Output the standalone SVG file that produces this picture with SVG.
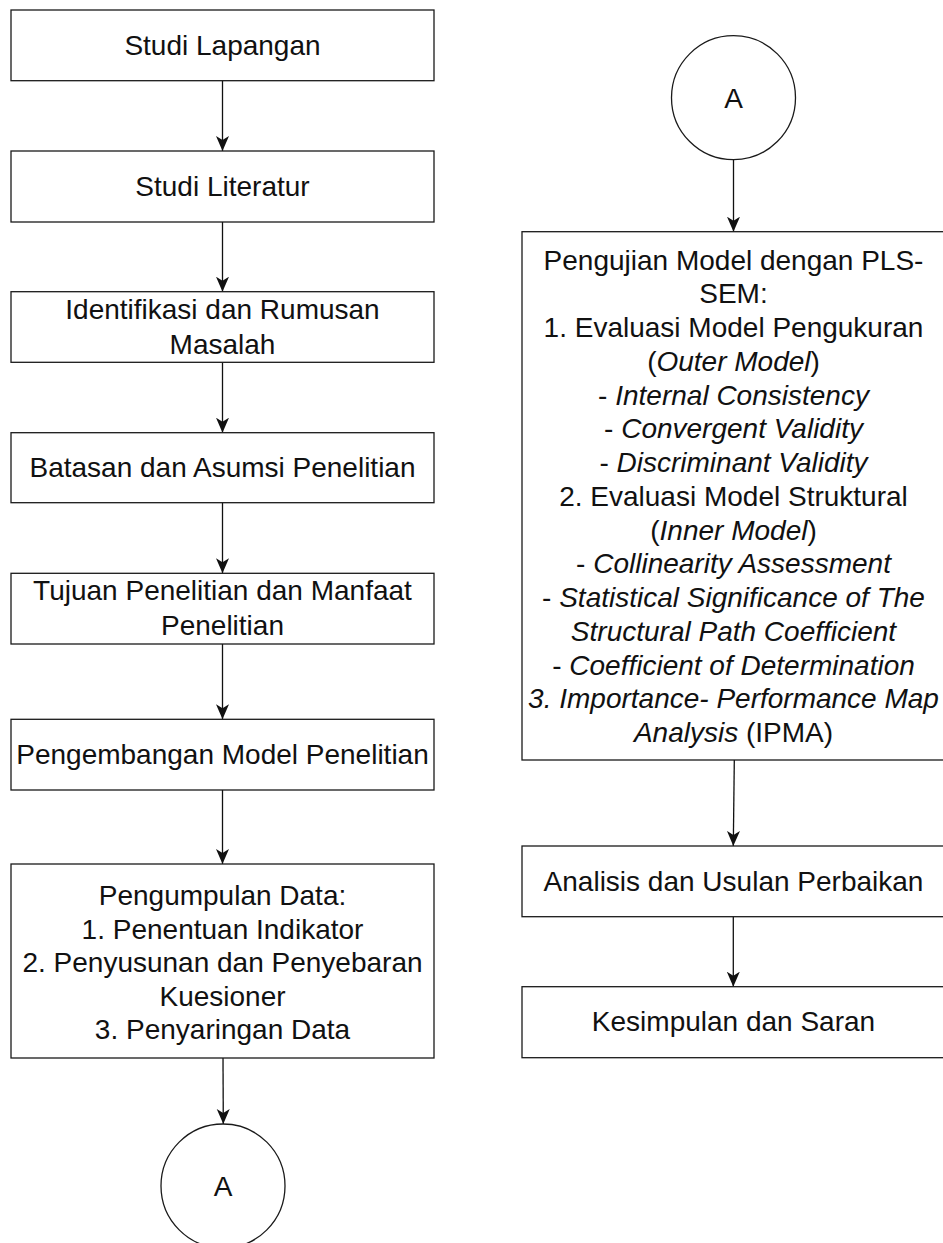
<svg xmlns="http://www.w3.org/2000/svg" width="943" height="1243" viewBox="0 0 943 1243">
<style>
.box{fill:#ffffff;stroke:#1a1a1a;stroke-width:1.3}
.t{font-family:"Liberation Sans",Arial,Helvetica,sans-serif;font-size:28px;fill:#111111;text-anchor:middle}
.i{font-style:italic}
.c{fill:none;stroke:#111111;stroke-width:1.3}
</style>
<defs>
<marker id="arr" markerUnits="userSpaceOnUse" viewBox="0 -7 16 14" refX="15" refY="0" markerWidth="16" markerHeight="14" orient="auto">
<path d="M0,-6.5 L15,0 L0,6.5 L4,0 Z" fill="#111111"/>
</marker>
</defs>
<rect width="943" height="1243" fill="#ffffff"/>
<g id="connectors">
<line class="c" x1="222.5" y1="80.7" x2="222.5" y2="151" marker-end="url(#arr)"/>
<line class="c" x1="222.5" y1="222" x2="222.5" y2="291.7" marker-end="url(#arr)"/>
<line class="c" x1="222.5" y1="362.3" x2="222.5" y2="432.7" marker-end="url(#arr)"/>
<line class="c" x1="222.5" y1="502.7" x2="222.5" y2="573.3" marker-end="url(#arr)"/>
<line class="c" x1="222.5" y1="644" x2="222.5" y2="719.3" marker-end="url(#arr)"/>
<line class="c" x1="222.5" y1="790" x2="222.5" y2="864" marker-end="url(#arr)"/>
<line class="c" x1="223" y1="1058" x2="223.3" y2="1124" marker-end="url(#arr)"/>
<line class="c" x1="733.5" y1="159.5" x2="733.5" y2="231.7" marker-end="url(#arr)"/>
<line class="c" x1="734.3" y1="760" x2="733.3" y2="846" marker-end="url(#arr)"/>
<line class="c" x1="733.3" y1="916.7" x2="733.3" y2="986.7" marker-end="url(#arr)"/>
</g>
<g id="n1"><rect class="box" x="11" y="10" width="423" height="70.7"/><text class="t" x="222.5" y="55.3">Studi Lapangan</text></g>
<g id="n2"><rect class="box" x="11" y="151" width="423" height="71"/><text class="t" x="222.5" y="196.3">Studi Literatur</text></g>
<g id="n3"><rect class="box" x="11" y="291.7" width="423" height="70.6"/><text class="t" x="222.5" y="319.3">Identifikasi dan Rumusan</text><text class="t" x="222.5" y="353.5">Masalah</text></g>
<g id="n4"><rect class="box" x="11" y="432.7" width="423" height="70"/><text class="t" x="222.5" y="477">Batasan dan Asumsi Penelitian</text></g>
<g id="n5"><rect class="box" x="11" y="573.3" width="423" height="70.7"/><text class="t" x="222.5" y="600.3">Tujuan Penelitian dan Manfaat</text><text class="t" x="222.5" y="635">Penelitian</text></g>
<g id="n6"><rect class="box" x="11" y="719.3" width="423" height="70.7"/><text class="t" x="222.5" y="764">Pengembangan Model Penelitian</text></g>
<g id="n7"><rect class="box" x="11" y="864" width="423" height="194"/>
<text class="t" x="222.5" y="905">Pengumpulan Data:</text>
<text class="t" x="222.5" y="938.5">1. Penentuan Indikator</text>
<text class="t" x="222.5" y="972">2. Penyusunan dan Penyebaran</text>
<text class="t" x="222.5" y="1005.5">Kuesioner</text>
<text class="t" x="222.5" y="1039">3. Penyaringan Data</text>
</g>
<g id="a1"><circle class="box" cx="223" cy="1186" r="62"/><text class="t" x="223" y="1195.5">A</text></g>
<g id="a2"><circle class="box" cx="733.5" cy="97.7" r="62"/><text class="t" x="733.5" y="108.3">A</text></g>
<g id="n8"><rect class="box" x="522" y="231.7" width="423" height="528.3"/>
<text class="t" x="733.5" y="269.5">Pengujian Model dengan PLS-</text>
<text class="t" x="733.5" y="303.2">SEM:</text>
<text class="t" x="733.5" y="337">1. Evaluasi Model Pengukuran</text>
<text class="t" x="733.5" y="370.7">(<tspan class="i">Outer Model</tspan>)</text>
<text class="t" x="733.5" y="404.5">- <tspan class="i">Internal Consistency</tspan></text>
<text class="t" x="733.5" y="438.2">- <tspan class="i">Convergent Validity</tspan></text>
<text class="t" x="733.5" y="472">- <tspan class="i">Discriminant Validity</tspan></text>
<text class="t" x="733.5" y="505.7">2. Evaluasi Model Struktural</text>
<text class="t" x="733.5" y="539.5">(<tspan class="i">Inner Model</tspan>)</text>
<text class="t" x="733.5" y="573.2">- <tspan class="i">Collinearity Assessment</tspan></text>
<text class="t" x="733.5" y="607">- <tspan class="i">Statistical Significance of The</tspan></text>
<text class="t i" x="733.5" y="640.7">Structural Path Coefficient</text>
<text class="t" x="733.5" y="674.5">- <tspan class="i">Coefficient of Determination</tspan></text>
<text class="t i" x="733.5" y="708.2">3. Importance- Performance Map</text>
<text class="t" x="733.5" y="742"><tspan class="i">Analysis</tspan> (IPMA)</text>
</g>
<g id="n9"><rect class="box" x="522" y="846" width="423" height="70.7"/><text class="t" x="733.5" y="890.5">Analisis dan Usulan Perbaikan</text></g>
<g id="n10"><rect class="box" x="522" y="986.7" width="423" height="71"/><text class="t" x="733.5" y="1031">Kesimpulan dan Saran</text></g>
</svg>
